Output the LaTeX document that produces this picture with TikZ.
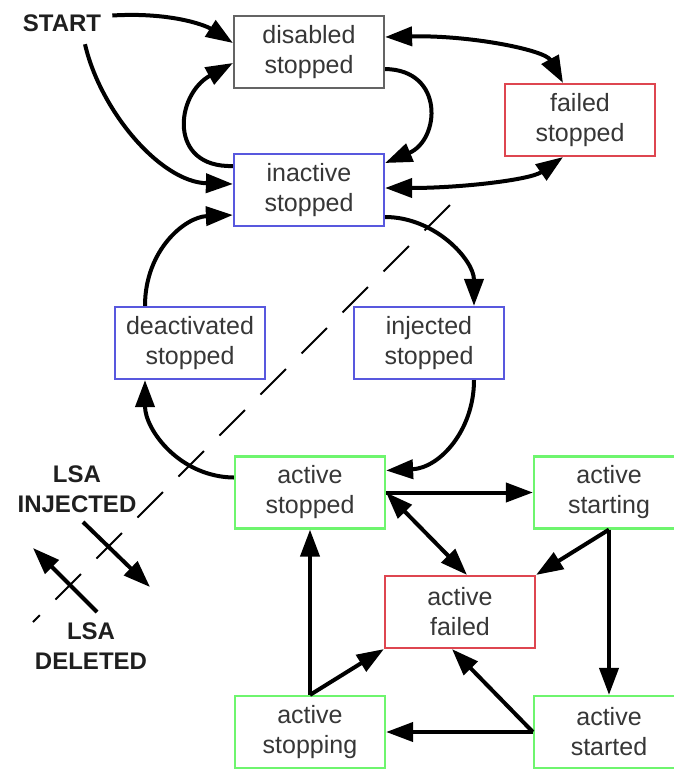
\documentclass[tikz,border=0pt]{standalone}
\usepackage{fontspec}
\setmainfont{Liberation Sans}
\usetikzlibrary{arrows.meta,calc}

\definecolor{txtgray}{RGB}{55,55,55}
\definecolor{edgegray}{RGB}{100,100,100}
\definecolor{edgeblue}{RGB}{88,88,222}
\definecolor{edgered}{RGB}{222,70,80}
\definecolor{edgegreen}{RGB}{110,245,110}

\begin{document}
\begin{tikzpicture}[x=1pt,y=-1pt,
  state/.style={draw, fill=white, line width=2.2pt, rectangle,
    minimum width=150pt, minimum height=72pt, inner sep=0pt,
    align=center, text=txtgray, font=\fontsize{25}{30}\selectfont},
  grayst/.style={state, draw=edgegray},
  bluest/.style={state, draw=edgeblue},
  redst/.style={state, draw=edgered},
  greenst/.style={state, draw=edgegreen},
  tag/.style={inner sep=0pt, align=center, text=black!88,
    font=\fontsize{24}{30}\selectfont\bfseries},
  tip/.tip={Triangle[length=27pt,width=19pt]},
  tr/.style={line width=4pt, -tip},
  both/.style={line width=4pt, tip-tip},
  divider/.style={line width=1.8pt, dash pattern=on 36pt off 22pt}
]
\clip (0,0) rectangle (674,769);

% states
\node[grayst]  (dis)   at (309,52)    {disabled\\stopped};
\node[bluest]  (ina)   at (309,190)   {inactive\\stopped};
\node[redst]   (fail)  at (580,120)   {failed\\stopped};
\node[bluest]  (deact) at (190,343)   {deactivated\\stopped};
\node[bluest]  (inj)   at (429,343)   {injected\\stopped};
\node[greenst] (ast)   at (310,492.5) {active\\stopped};
\node[greenst] (asg)   at (609,492.5) {active\\starting};
\node[redst]   (afl)   at (460,612)   {active\\failed};
\node[greenst] (asp)   at (310,732)   {active\\stopping};
\node[greenst] (asd)   at (609,732)   {active\\started};

% labels
\node[tag] (start) at (62,23.5)  {START};
\node[tag] (linj)  at (77,489.5) {LSA\\INJECTED};
\node[tag] (ldel)  at (91,646.5) {LSA\\DELETED};

% boundary between injected and deleted LSAs
\coordinate (dtop) at (450,205);
\coordinate (dbot) at (33,622);
\draw[divider] (dtop) -- (dbot);

% direction markers
\coordinate (injA) at (83,522);
\coordinate (injB) at (150,587);
\coordinate (delA) at (97,612);
\coordinate (delB) at (33,548);
\draw[tr] (injA) -- (injB);
\draw[tr] (delA) -- (delB);

% upper transitions
\draw[tr] ($(start.east)+(11,-8)$) .. controls (170,12) and (205,25) .. ($(dis.west)+(0,-9)$);
\draw[tr] ($(start.south)+(23,12)$) .. controls (100,110) and (160,182) .. ($(ina.west)+(0,-6)$);
\draw[tr] ($(ina.west)+(0,-24)$) .. controls (168,168) and (175,95) .. ($(dis.west)+(0,11)$);
\draw[tr] ($(dis.east)+(0,17)$) .. controls (445,70) and (440,140) .. ($(ina.east)+(0,-27)$);
\draw[both] ($(dis.east)+(0,-15)$) .. controls (470,35) and (545,50) .. ($(fail.north)+(-17,0)$);
\draw[both] ($(ina.east)+(0,-2)$) .. controls (460,188) and (530,180) .. ($(fail.south)+(-17,0)$);

% injection / deactivation cycle
\draw[tr] ($(ina.east)+(0,27)$) .. controls (435,217) and (474,260) .. ($(inj.north)+(45,0)$);
\draw[tr] ($(inj.south)+(45,0)$) .. controls (474,430) and (440,468) .. ($(ast.east)+(0,-22)$);
\draw[tr] ($(ast.west)+(0,-15)$) .. controls (180,477) and (145,430) .. ($(deact.south)+(-45,0)$);
\draw[tr] ($(deact.north)+(-45,0)$) .. controls (145,250) and (185,217) .. ($(ina.west)+(0,25)$);

% active states
\draw[tr] (ast.east) -- (asg.west);
\draw[both] (ast.east) -- ($(afl.north)+(7,0)$);
\draw[tr] (asg.south) -- (afl.north east);
\draw[tr] (asg.south) -- (asd.north);
\draw[tr] (asd.west) -- ($(afl.south)+(-8,0)$);
\draw[tr] (asd.west) -- (asp.east);
\draw[tr] (asp.north) -- (ast.south);
\draw[tr] (asp.north) -- (afl.south west);
\end{tikzpicture}
\end{document}
